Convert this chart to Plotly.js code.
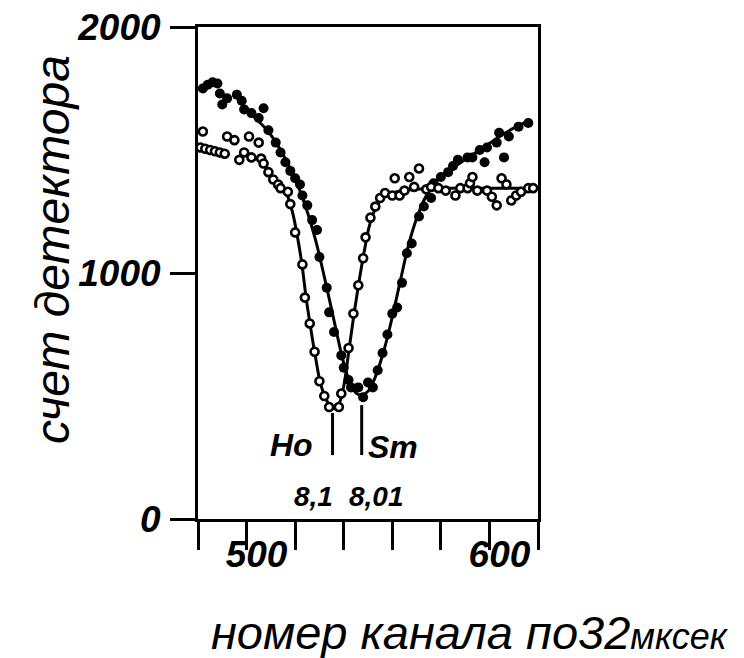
<!DOCTYPE html>
<html>
<head>
<meta charset="utf-8">
<script src="https://cdn.plot.ly/plotly-3.0.1.min.js"></script>
<style>html,body{margin:0;padding:0;background:#fff;}#chart{width:744px;height:658px;}</style>
</head>
<body>
<div id="chart"></div>
<script>
// Ho (open circles) measured points
const hoChannel = [481,482,483,485,487,489,491,492,495,497,499,501,502,505,506,507,509,511,513,514,517,518,520,523,524,526,528,530,532,534,538,539,542,544,546,548,549,551,553,555,557,560,561,563,565,567,569,571,574,576,579,582,586,588,591,592,593,595,599,601,603,605,607,609,611,613,616,618];
const hoCounts  = [1510,1575,1505,1500,1495,1490,1485,1555,1540,1460,1490,1555,1470,1530,1465,1445,1410,1380,1360,1345,1330,1280,1165,1035,900,795,680,560,500,455,455,510,695,835,950,1060,1145,1225,1270,1305,1325,1315,1385,1315,1335,1390,1350,1425,1340,1350,1345,1335,1315,1345,1345,1365,1390,1335,1335,1310,1275,1385,1360,1295,1315,1330,1345,1345];
// Sm (filled circles) measured points
const smChannel = [482,484,486,488,489,490,492,496,498,499,502,505,507,509,512,514,516,518,520,522,523,525,527,529,530,533,534,536,539,540,542,543,546,548,550,552,554,556,558,560,562,564,566,568,571,573,576,577,580,583,585,587,591,593,596,598,599,603,604,606,608,612,616];
const smCounts  = [1750,1765,1775,1770,1730,1685,1710,1725,1700,1665,1650,1630,1670,1580,1530,1490,1450,1415,1385,1360,1315,1275,1215,1175,1065,940,840,760,665,615,565,535,535,495,555,535,605,675,750,835,860,960,1080,1120,1230,1270,1305,1365,1390,1410,1435,1460,1470,1470,1500,1450,1510,1530,1570,1470,1555,1595,1610];
// fitted curves
const hoFitChannel = [506,510.5,516,518.7,520.8,522.8,524.5,526.5,528.6,530.6,533.1,535.6,538.1,540.1,542.2,544.2,546.3,548.4,550.4,552.5,554.9,558.2,563.2,571.4,583.8,596.1,620];
const hoFitCounts  = [1460,1385,1330,1255,1155,1035,900,770,645,545,480,448,470,545,690,830,965,1085,1185,1250,1293,1317,1333,1341,1345,1345,1345];
const smFitChannel = [499.4,503.5,507.6,511.7,515.8,519.9,524.1,528.2,532.3,536.4,539.7,542.6,545.1,547.5,550.4,553.3,556.6,559.9,563.2,566.5,569.8,573.5,577.6,582.5,587.9,594.1,600.2,606.4,612.6,616.7];
const smFitCounts  = [1670,1630,1590,1537,1467,1386,1276,1142,972,789,646,553,512,504,524,585,687,817,963,1106,1215,1305,1366,1411,1447,1488,1528,1569,1602,1618];
// marker bars and labels
const barChannel = [535.4, 547.4];
const barTop = [431, 463];
const barBottom = [260, 260];
const labelText = ['Ho', 'Sm', '8,1', '8,01'];
const labelChannel = [518.7, 560.3, 527.4, 553.3];
const labelCounts = [300, 292, 92, 92];
// axes
const xTickVals = [480,500,520,540,560,580,600,620];
const xTickText = ['', '500', '', '', '', '', '600', ''];
const yTickVals = [0, 1000, 2000];
const yTickText = ['0', '1000', '2000'];
const xTitle = 'номер канала по32<span style="font-size:36px">мксек</span>';
const yTitle = 'счет детектора';

const FONT = 'Liberation Sans, Arial, sans-serif';
const L = 198, R = 206, T = 27, B = 139, W = 744, H = 658;
const plotW = W - L - R, plotH = H - T - B;
const px2x = p => (p - L) / plotW;
const py2y = p => (H - B - p) / plotH;

const traces = [
  {x: smFitChannel, y: smFitCounts, mode: 'lines', line: {color: '#000', width: 3, shape: 'spline'}, hoverinfo: 'skip'},
  {x: hoFitChannel, y: hoFitCounts, mode: 'lines', line: {color: '#000', width: 3, shape: 'spline'}, hoverinfo: 'skip'},
  {x: smChannel, y: smCounts, mode: 'markers', marker: {symbol: 'circle', color: '#000', size: 10}},
  {x: hoChannel, y: hoCounts, mode: 'markers', marker: {symbol: 'circle', color: '#fff', size: 8, line: {color: '#000', width: 2.6}}}
];

const shapes = barChannel.map((c, i) => ({
  type: 'line', xref: 'x', yref: 'y', x0: c, x1: c, y0: barBottom[i], y1: barTop[i],
  line: {color: '#000', width: 3}
}));

const annotations = labelText.map((t, i) => ({
  text: t, x: labelChannel[i], y: labelCounts[i], xref: 'x', yref: 'y', showarrow: false,
  xanchor: 'center', yanchor: 'middle',
  font: {family: FONT, size: i < 2 ? 32 : 28, color: '#000', style: 'italic', weight: 'bold'}
}));
annotations.push({
  text: xTitle, xref: 'paper', yref: 'paper', x: px2x(470), y: py2y(632),
  xanchor: 'center', yanchor: 'middle', showarrow: false,
  font: {family: FONT, size: 47, color: '#000', style: 'italic'}
});
annotations.push({
  text: yTitle, xref: 'paper', yref: 'paper', x: px2x(52), y: py2y(250),
  xanchor: 'center', yanchor: 'middle', showarrow: false, textangle: -90,
  font: {family: FONT, size: 48, color: '#000', style: 'italic'}
});

const layout = {
  width: W, height: H,
  margin: {l: L, r: R, t: T, b: B},
  paper_bgcolor: '#fff', plot_bgcolor: '#fff',
  showlegend: false,
  xaxis: {
    range: [480, 620], tickvals: xTickVals, ticktext: xTickText,
    showgrid: false, zeroline: false, showline: true, mirror: true, linewidth: 3, linecolor: '#000',
    ticks: 'outside', ticklen: 28, tickwidth: 3, tickcolor: '#000',
    ticklabelshift: 10, ticklabelstandoff: -27,
    tickfont: {family: FONT, size: 37, color: '#000', style: 'italic', weight: 'bold'}
  },
  yaxis: {
    range: [0, 2000], tickvals: yTickVals, ticktext: yTickText,
    showgrid: false, zeroline: false, showline: true, mirror: true, linewidth: 3, linecolor: '#000',
    ticks: 'outside', ticklen: 25, tickwidth: 3, tickcolor: '#000',
    ticklabelstandoff: 2,
    tickfont: {family: FONT, size: 37, color: '#000', style: 'italic', weight: 'bold'}
  },
  shapes: shapes,
  annotations: annotations
};

Plotly.newPlot('chart', traces, layout, {displayModeBar: false, staticPlot: true});
</script>
</body>
</html>
